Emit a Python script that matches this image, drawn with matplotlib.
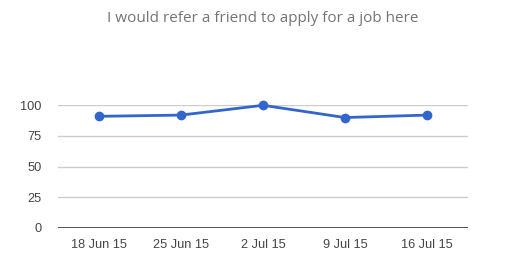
import matplotlib.pyplot as plt

# chart data
dates = ["18 Jun 15", "25 Jun 15", "2 Jul 15", "9 Jul 15", "16 Jul 15"]
scores = [91, 92, 100, 90, 92]
yticks = [0, 25, 50, 75, 100]

fig = plt.figure(figsize=(5.09, 2.70), dpi=100)
ax = fig.add_axes([58 / 509, 1 - 227.7 / 270, 410 / 509, (227.7 - 105.3) / 270])

x = list(range(len(dates)))
ax.plot(x, scores, color="#3366cc", linewidth=2, marker="o", markersize=6,
        clip_on=False, zorder=3)

ax.set_xlim(-0.5, len(dates) - 0.5)
ax.set_ylim(0, 100)
ax.set_yticks(yticks)
ax.set_xticks(x)
ax.set_xticklabels(dates)

for y in yticks[1:]:
    ax.axhline(y, color="#cccccc", linewidth=1, zorder=1)
ax.axhline(0, color="#333333", linewidth=1.2, zorder=2)

for s in ax.spines.values():
    s.set_visible(False)
ax.tick_params(length=0, labelsize=9.2, labelcolor="#444444")
ax.tick_params(axis="y", pad=12)
ax.tick_params(axis="x", pad=8)
for lab in ax.get_xticklabels() + ax.get_yticklabels():
    lab.set_family("Liberation Sans")

fig.text(263 / 509, 1 - 18 / 270, "I would refer a friend to apply for a job here",
         ha="center", va="center", fontsize=11, color="#757575",
         family="Open Sans")

fig.savefig("out.png", dpi=100)
